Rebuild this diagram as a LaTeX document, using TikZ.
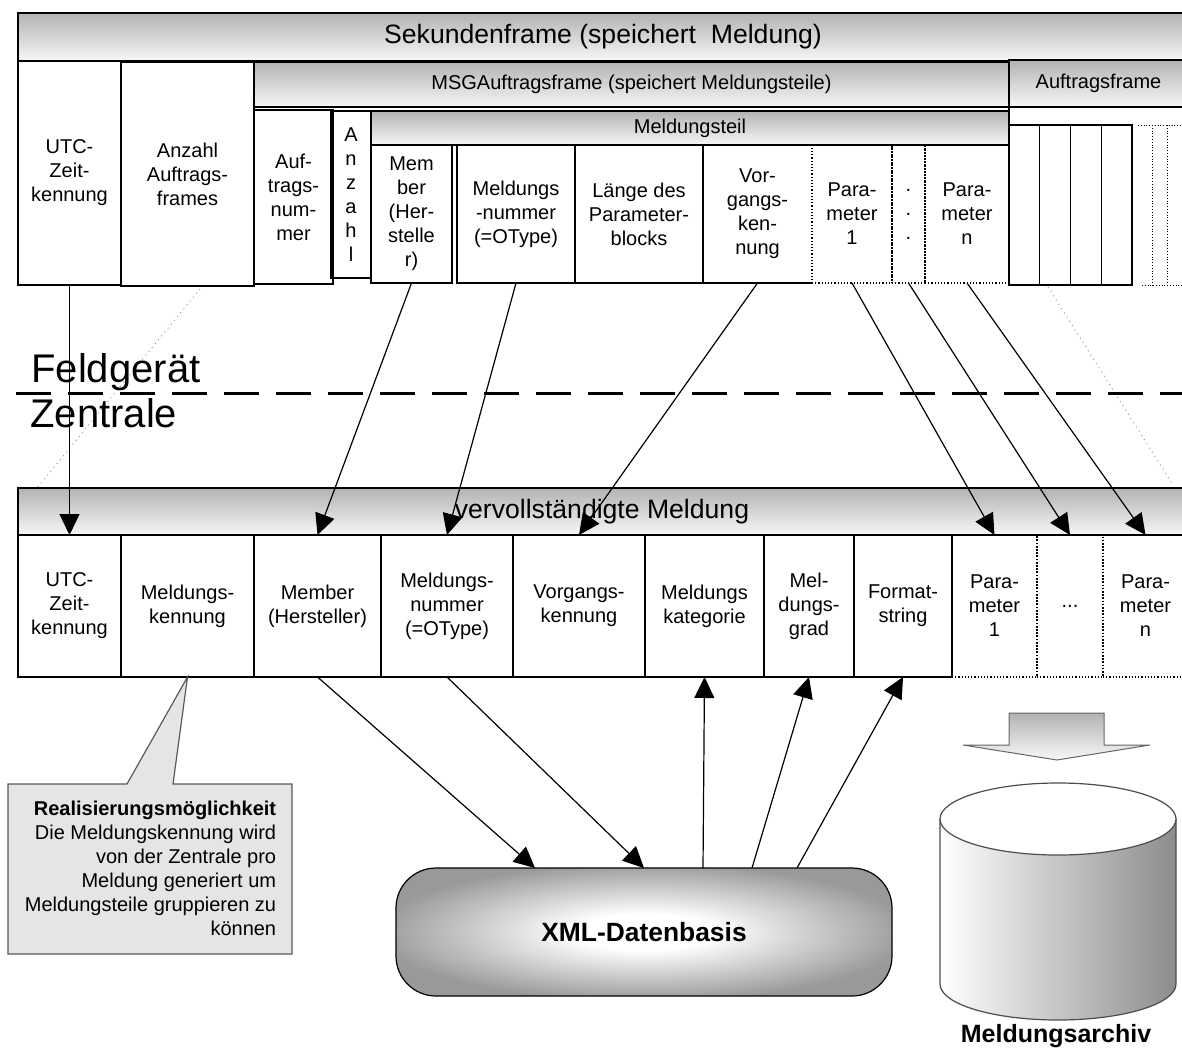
\documentclass[tikz,border=0pt]{standalone}
\usepackage{fontspec}
\setmainfont{Liberation Sans}
\usetikzlibrary{positioning,calc,arrows.meta}

% box from (x1,y1) to (x2,y2), pixel units
\newcommand{\cellnode}[7][cell]{%
  \node[#1, minimum width={((#5)-(#3))*0.5pt}, minimum height={((#6)-(#4))*0.5pt}]
    (#2) at ({((#3)+(#5))/2},{((#4)+(#6))/2}) {#7};}

\pgfdeclareradialshading{xmlshade}{\pgfpoint{0bp}{0bp}}{%
  color(0bp)=(white); color(7bp)=(white); color(27bp)=(black!40); color(50bp)=(black!40)}

\begin{document}
\begin{tikzpicture}[
    x=0.5pt, y=-0.5pt,
    cell/.style={draw, line width=0.6pt, inner sep=0pt, outer sep=0pt, align=center, font=\fontsize{10}{12}\selectfont},
    dcell/.style={cell, densely dotted},
    bar/.style={cell, top color=black!30, bottom color=black!3},
    bigbar/.style={bar, font=\fontsize{13.3}{16}\selectfont},
    arrow/.style={-{Triangle[length=10.5pt,width=10pt]}, line width=0.6pt},
    persp/.style={black!40, dotted, line width=0.5pt},
    side/.style={font=\fontsize{20}{24}\selectfont, inner sep=0pt}
]
\clip (0,0) rectangle (1182,1054);

% Perspective lines
\draw[persp] (200,289) -- (37,488);
\draw[persp] (1048,287) -- (1173,485);

% Sekundenframe
\cellnode[bigbar]{sekframe}{18}{13}{1188}{61}{Sekundenframe (speichert~~Meldung)}
\cellnode{utcA}{18}{61}{121}{285}{UTC-\\Zeit-\\kennung}
\cellnode{anzahlAF}{121}{62}{254}{286}{Anzahl\\Auftrags-\\frames}

% MSGAuftragsframe
\cellnode[bar]{msgframe}{254}{62}{1009}{107}{MSGAuftragsframe (speichert Meldungsteile)}
\cellnode{auftrnr}{254}{110}{333}{284}{Auf-\\trags-\\num-\\mer}
\cellnode{anzahl}{331}{111}{371}{278}{A\\n\\z\\a\\h\\l}

% Meldungsteil
\cellnode[bar]{mteil}{371}{111}{1009}{145}{Meldungsteil}
\cellnode{memberA}{371}{145}{452}{283}{Mem\\ber\\(Her-\\stelle\\r)}
\cellnode{mnrA}{457}{145}{575}{283}{Meldungs\\-nummer\\(=OType)}
\cellnode{laenge}{575}{145}{703}{283}{Länge des\\Parameter-\\blocks}
\cellnode[cell, draw=none]{vorgA}{703}{145}{812}{283}{Vor-\\gangs-\\ken-\\nung}
\draw[line width=0.6pt] (vorgA.north east) -- (vorgA.north west) -- (vorgA.south west) -- (vorgA.south east);
\cellnode[dcell]{par1A}{812}{145}{892}{283}{Para-\\meter\\1}
\cellnode[dcell]{pdotsA}{892}{145}{925}{283}{.\\.\\.}
\cellnode[dcell]{parnA}{925}{145}{1009}{283}{Para-\\meter\\n}

% Auftragsframe
\cellnode[bar, line width=1pt]{auftrframe}{1009}{60}{1188}{107}{Auftragsframe}
\draw[line width=1pt] (auftrframe.south west) -- ++(0,18);
\foreach \i in {0,...,3}
  \cellnode{af\i}{1009+30.75*\i}{125}{1039.75+30.75*\i}{285}{}
\draw[densely dotted] (1138,125) -- (1188,125);
\foreach \x in {1152,1167}
  \draw[densely dotted] (\x,125) -- (\x,285);
\draw[densely dotted] (1142,285) -- (1188,285);

% Feldgeraet / Zentrale
\node[side, anchor=base west] (feld) at (31,382) {Feldgerät};
\node[side, anchor=base west] (zentr) at (30,427) {Zentrale};
\draw[line width=1.5pt, dash pattern=on 17.5pt off 8.5pt] (16,393) -- (1188,393);

% vervollstaendigte Meldung
\cellnode[bigbar]{vmeld}{18}{488}{1186}{535}{vervollständigte Meldung}
\cellnode{utcB}{18}{535}{121}{677}{UTC-\\Zeit-\\kennung}
\cellnode{mkennB}{121}{535}{254}{677}{Meldungs-\\kennung}
\cellnode{memberB}{254}{535}{381}{677}{Member\\(Hersteller)}
\cellnode{mnrB}{381}{535}{513}{677}{Meldungs-\\nummer\\(=OType)}
\cellnode{vorgB}{513}{535}{645}{677}{Vorgangs-\\kennung}
\cellnode{mkat}{645}{535}{764}{677}{Meldungs\\kategorie}
\cellnode{mgrad}{764}{535}{854}{677}{Mel-\\dungs-\\grad}
\cellnode{fmt}{854}{535}{952}{677}{Format-\\string}
\cellnode[dcell]{par1B}{952}{535}{1037}{677}{Para-\\meter\\1}
\cellnode[dcell]{pdotsB}{1037}{535}{1103}{677}{...}
\cellnode[dcell]{parnB}{1103}{535}{1188}{677}{Para-\\meter\\n}

% Arrows Feldgeraet -> Zentrale
\draw[arrow] (utcA.south) -- (utcB.north);
\draw[arrow] (memberA.south) -- (memberB.north);
\draw[arrow] (mnrA.south) -- (mnrB.north);
\draw[arrow] (vorgA.south) -- (vorgB.north);
\draw[arrow] (par1A.south) -- (par1B.north);
\draw[arrow] (pdotsA.south) -- (pdotsB.north);
\draw[arrow] (parnA.south) -- (parnB.north);

% XML-Datenbasis
\cellnode[cell, rounded corners=20pt, shading=xmlshade,
      font=\bfseries\fontsize{13.2}{16}\selectfont]{xml}{396}{868}{892}{996}{XML-Datenbasis}
\draw[arrow] (memberB.south) -- ($(xml.north)+(-109,0)$);
\draw[arrow] (mnrB.south) -- (xml.north);
\draw[arrow] ($(xml.north)+(59,0)$) -- (mkat.south);
\draw[arrow] ($(xml.north)+(108,0)$) -- (mgrad.south);
\draw[arrow] ($(xml.north)+(153,0)$) -- (fmt.south);

% Callout
\draw[black!65, line width=0.6pt, fill=black!10] (8,784) -- (127,784) -- (mkennB.south) -- (173,784) -- (292,784) -- (292,954) -- (8,954) -- cycle;
\node[align=right, inner sep=0pt, font=\fontsize{10}{12}\selectfont] (hint) at (150.5,868)
  {\textbf{Realisierungsmöglichkeit}\\Die Meldungskennung wird\\von der Zentrale pro\\Meldung generiert um\\Meldungsteile gruppieren zu\\können};

% Meldungsarchiv
\draw[black!60, line width=0.5pt, top color=black!30, bottom color=black!3] (1009,713) -- (1104,713) -- (1104,745) -- (1150,745) -- (1057,760) -- (963,745) -- (1009,745) -- cycle;
\path[draw=black!70, line width=0.6pt, left color=white, right color=black!45] (940,819) -- (940,984)
  .. controls (940,1004) and (993,1020) .. (1058,1020)
  .. controls (1123,1020) and (1176,1004) .. (1176,984) -- (1176,819) -- cycle;
\draw[black!70, line width=0.6pt, fill=white] (1058,819) ellipse [x radius=118, y radius=36];
\node[anchor=base, font=\bfseries\fontsize{12.5}{15}\selectfont] (archiv) at (1056,1042) {Meldungsarchiv};

\end{tikzpicture}
\end{document}
